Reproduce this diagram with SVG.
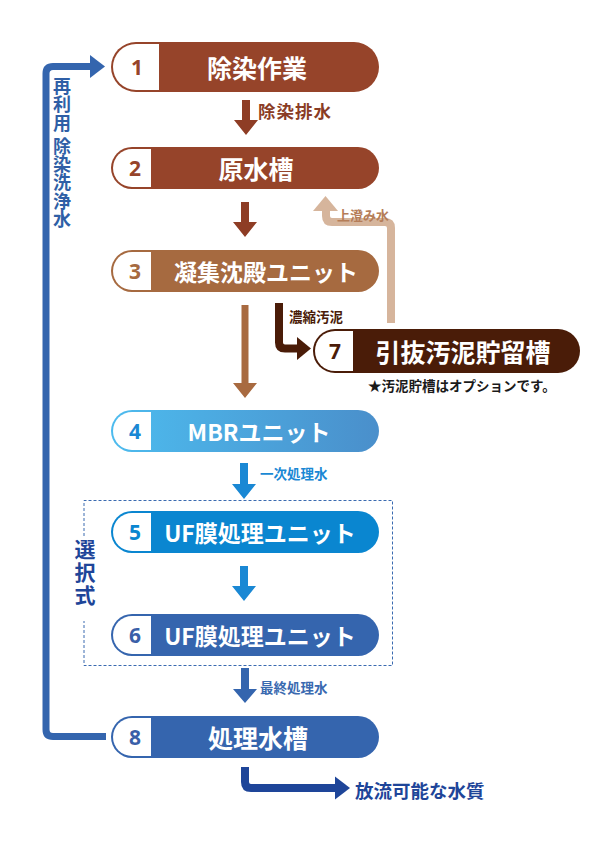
<svg xmlns="http://www.w3.org/2000/svg" width="595" height="842" viewBox="0 0 595 842">
<defs>
<linearGradient id="g4" x1="0" y1="0" x2="1" y2="0">
<stop offset="0" stop-color="#4dbbee"/>
<stop offset="1" stop-color="#4a8fcb"/>
</linearGradient>
<style>
text{font-family:"Noto Sans CJK JP","Noto Sans",sans-serif;font-weight:700}
.lbl{fill:#fff;font-size:24px;text-anchor:middle;dominant-baseline:central}
.num{font-family:"Noto Sans","Noto Sans CJK JP",sans-serif;font-size:21px;text-anchor:middle;dominant-baseline:central}
.sm{font-size:13.5px;dominant-baseline:central}
.line{fill:none;stroke-linejoin:round}
</style>
</defs>
<rect width="595" height="842" fill="#fff"/>

<g id="connectors">
<path class="line" d="M106,736.5 H53 Q46,736.5 46,729.5 V73.5 Q46,66.5 53,66.5 H91" stroke="#3465ae" stroke-width="7"/>
<path d="M90,55 L105,66.5 L90,78 Z" fill="#3465ae"/>
<path d="M242,100 H250 V120 H258 L246,135 L234,120 H242 Z" fill="#8e3d25"/>
<path d="M241,202 H249 V222 H257 L245,237 L233,222 H241 Z" fill="#8e3d25"/>
<path d="M241.5,305 H248.5 V383 H257 L245,398 L233,383 H241.5 Z" fill="#a86a40"/>
<path class="line" d="M279,303 V342.5 Q279,348.5 285,348.5 H298" stroke="#4a1c08" stroke-width="8"/>
<path d="M297,337 L311,348.5 L297,360 Z" fill="#4a1c08"/>
<path class="line" d="M391,323 V228 Q391,222 385,222 H332 Q326,222 326,216 V209" stroke="#d6b59c" stroke-width="8"/>
<path d="M313,211 L325.5,196 L338,211 Z" fill="#d6b59c"/>
<path d="M240,463 H248 V484 H256 L244,499 L232,484 H240 Z" fill="#1a88d4"/>
<path d="M240,566 H248 V586 H256 L244,601 L232,586 H240 Z" fill="#1a88d4"/>
<path d="M241,668 H249 V689 H257 L245,703 L233,689 H241 Z" fill="#3465ae"/>
<path class="line" d="M245,767 V782 Q245,788 251,788 H336" stroke="#1e4599" stroke-width="8"/>
<path d="M335,776.5 L350,788 L335,799.5 Z" fill="#1e4599"/>
<path d="M84,536 V500.5 H392.5 V665.5 H84 V621" fill="none" stroke="#3a6ab0" stroke-width="1" stroke-dasharray="3 2"/>
</g>

<g id="labels">
<text x="62" y="77" writing-mode="vertical-rl" style="font-size:18px;fill:#2f5fa6;letter-spacing:0.4px">再利用 除染洗浄水</text>
<text x="85" y="539" writing-mode="vertical-rl" style="font-size:21px;fill:#1e4599;letter-spacing:2px">選択式</text>
<text class="sm" x="258" y="110" style="font-size:17.5px;fill:#8a3c25;letter-spacing:1px">除染排水</text>
<text class="sm" x="337" y="214" style="font-size:13px;fill:#b57d58">上澄み水</text>
<text class="sm" x="289" y="316" style="font-size:13.5px;fill:#4a1c08">濃縮汚泥</text>
<text class="sm" x="368" y="385" style="font-size:13.5px;fill:#1a1a1a">★汚泥貯槽はオプションです。</text>
<text class="sm" x="260" y="473" style="fill:#1a88d4">一次処理水</text>
<text class="sm" x="260" y="687" style="fill:#3a6ab0">最終処理水</text>
<text class="sm" x="355" y="790" style="font-size:18.5px;fill:#1e4599">放流可能な水質</text>
</g>

<g id="node1">
<rect x="111" y="42" width="268" height="50" rx="25" fill="#96442a"/>
<path d="M159,44 H136 A23,23 0 0 0 136,90 H159 Z" fill="#fff"/>
<text class="num" x="137" y="67" fill="#96442a">1</text>
<text class="lbl" x="257" y="67" style="font-size:25px">除染作業</text>
</g>
<g id="node2">
<rect x="111" y="147" width="268" height="42" rx="21" fill="#96442a"/>
<path d="M151,149 H132 A19,19 0 0 0 132,187 H151 Z" fill="#fff"/>
<text class="num" x="135" y="168" fill="#96442a">2</text>
<text class="lbl" x="256" y="168" style="font-size:25px">原水槽</text>
</g>
<g id="node3">
<rect x="111" y="250" width="268" height="42" rx="21" fill="#a66a40"/>
<path d="M151,252 H132 A19,19 0 0 0 132,290 H151 Z" fill="#fff"/>
<text class="num" x="135" y="271" fill="#a66a40">3</text>
<text class="lbl" x="266" y="271" style="font-size:23px">凝集沈殿ユニット</text>
</g>
<g id="node7">
<rect x="313" y="329" width="267" height="44" rx="22" fill="#4a1c08"/>
<path d="M353,331 H335 A20,20 0 0 0 335,371 H353 Z" fill="#fff"/>
<text class="num" x="335" y="351" fill="#4a1c08">7</text>
<text class="lbl" x="463" y="351" style="font-size:25px">引抜汚泥貯留槽</text>
</g>
<g id="node4">
<rect x="111" y="410" width="268" height="42" rx="21" fill="url(#g4)"/>
<path d="M151,412 H132 A19,19 0 0 0 132,450 H151 Z" fill="#fff"/>
<text class="num" x="135" y="431" fill="#1a88d4">4</text>
<text class="lbl" x="259" y="431" style="font-size:23px">MBRユニット</text>
</g>
<g id="node5">
<rect x="111" y="511" width="268" height="42" rx="21" fill="#0a86d0"/>
<path d="M151,513 H132 A19,19 0 0 0 132,551 H151 Z" fill="#fff"/>
<text class="num" x="135" y="532" fill="#0a86d0">5</text>
<text class="lbl" x="260" y="532" style="font-size:23px">UF膜処理ユニット</text>
</g>
<g id="node6">
<rect x="111" y="614" width="268" height="42" rx="21" fill="#3565ae"/>
<path d="M151,616 H132 A19,19 0 0 0 132,654 H151 Z" fill="#fff"/>
<text class="num" x="135" y="635" fill="#3a5fa8">6</text>
<text class="lbl" x="260" y="635" style="font-size:23px">UF膜処理ユニット</text>
</g>
<g id="node8">
<rect x="111" y="716" width="268" height="42" rx="21" fill="#3565ae"/>
<path d="M151,718 H132 A19,19 0 0 0 132,756 H151 Z" fill="#fff"/>
<text class="num" x="135" y="737" fill="#3a5fa8">8</text>
<text class="lbl" x="258" y="737" style="font-size:25px">処理水槽</text>
</g>
</svg>
